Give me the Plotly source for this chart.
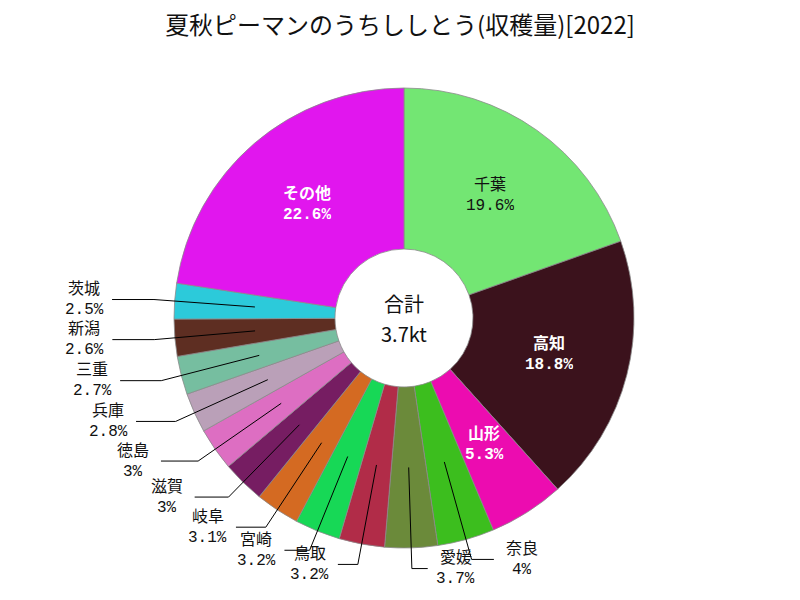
import math
import plotly.graph_objects as go

# ---- data ----
labels = ["千葉", "高知", "山形", "奈良", "愛媛", "鳥取", "宮崎", "岐阜",
          "滋賀", "徳島", "兵庫", "三重", "新潟", "茨城", "その他"]
shares = [19.6, 18.8, 5.3, 4.0, 3.7, 3.2, 3.2, 3.1,
          3.0, 3.0, 2.8, 2.7, 2.6, 2.5, 22.6]
colors = ["#73E673", "#3B121C", "#EC0CB0", "#3CBE1E", "#6B8A3A", "#B12C48",
          "#17D856", "#D46A22", "#761D62", "#DD6EC2", "#BAA0B8", "#76BEA0",
          "#5E2E22", "#2CCADA", "#E116EE"]
inside_labels = ["千葉", "高知", "山形", "その他"]
title_text = "夏秋ピーマンのうちししとう(収穫量)[2022]"
total_label = "合計"
total_value = "3.7kt"

# ---- layout constants (pixels) ----
W, H = 800, 600
CX, CY, R = 404, 318, 230
HOLE = 0.30
FONT = "Noto Sans CJK JP"
LBL_FONT = "Liberation Mono, Noto Sans CJK JP"


def px(x):
    return x / W


def py(y):
    return 1 - y / H


def text_ann(x, y, text, size=16, color="#111", height=None, family=LBL_FONT):
    d = dict(x=px(x), y=py(y), xref="paper", yref="paper", text=text,
             showarrow=False, xanchor="center", yanchor="middle",
             align="center", font=dict(family=family, size=size, color=color))
    if height:
        d["height"] = height
    return d


pct_text = [f"{v:g}%" for v in shares]

fig = go.Figure()
fig.add_trace(go.Pie(
    labels=labels, values=shares, sort=False, direction="clockwise",
    rotation=0, hole=HOLE,
    marker=dict(colors=colors, line=dict(color="#8a8a8a", width=0.8)),
    textinfo="none", hoverinfo="label+percent", showlegend=False,
    domain=dict(x=[px(CX - R), px(CX + R)], y=[py(CY + R), py(CY - R)]),
))

total = sum(shares)
annotations = []
shapes = []
r_mid = (HOLE * R + R) / 2
r_elb = R * 1.09
cum = 0.0
for lab, v, col, pt in zip(labels, shares, colors, pct_text):
    mid = (cum + v / 2) / total
    cum += v
    th = 2 * math.pi * mid
    s, c = math.sin(th), math.cos(th)
    tx, ty = CX + r_mid * s, CY - r_mid * c
    if lab in inside_labels:
        rr, gg, bb = (int(col[i:i + 2], 16) for i in (1, 3, 5))
        lum = 0.299 * rr + 0.587 * gg + 0.114 * bb
        dark = lum < 150
        fc = "white" if dark else "#111"
        n = f"<b>{lab}</b>" if dark else lab
        p = f"<b>{pt}</b>" if dark else pt
        annotations.append(text_ann(tx, ty - 10.5, n, color=fc, height=18))
        annotations.append(text_ann(tx, ty + 10.5, p, color=fc, height=18))
    else:
        ex, ey = CX + r_elb * s, CY - r_elb * c
        sign = 1 if s >= 0 else -1
        hl = 15 + 27 * abs(s)
        endx = ex + sign * hl
        shapes.append(dict(
            type="path", xref="paper", yref="paper", layer="above",
            path=f"M {px(tx)},{py(ty)} L {px(ex)},{py(ey)} L {px(endx)},{py(ey)}",
            line=dict(color="black", width=1),
        ))
        lx = endx + sign * 28
        annotations.append(text_ann(lx, ey - 10.5, lab, height=18))
        annotations.append(text_ann(lx, ey + 10.5, pt, height=18))

annotations.append(text_ann(CX, CY - 15, total_label, size=20, height=24,
                            family=FONT))
annotations.append(text_ann(CX, CY + 15, total_value, size=20, height=24,
                            family=FONT))

fig.update_layout(
    width=W, height=H, margin=dict(l=0, r=0, t=0, b=0),
    paper_bgcolor="white", plot_bgcolor="white",
    title=dict(text=title_text, x=0.5, xanchor="center", y=py(26),
               yanchor="middle", yref="container",
               font=dict(family=FONT, size=24, color="#111")),
    annotations=annotations, shapes=shapes,
)
fig.write_html("out.html")
